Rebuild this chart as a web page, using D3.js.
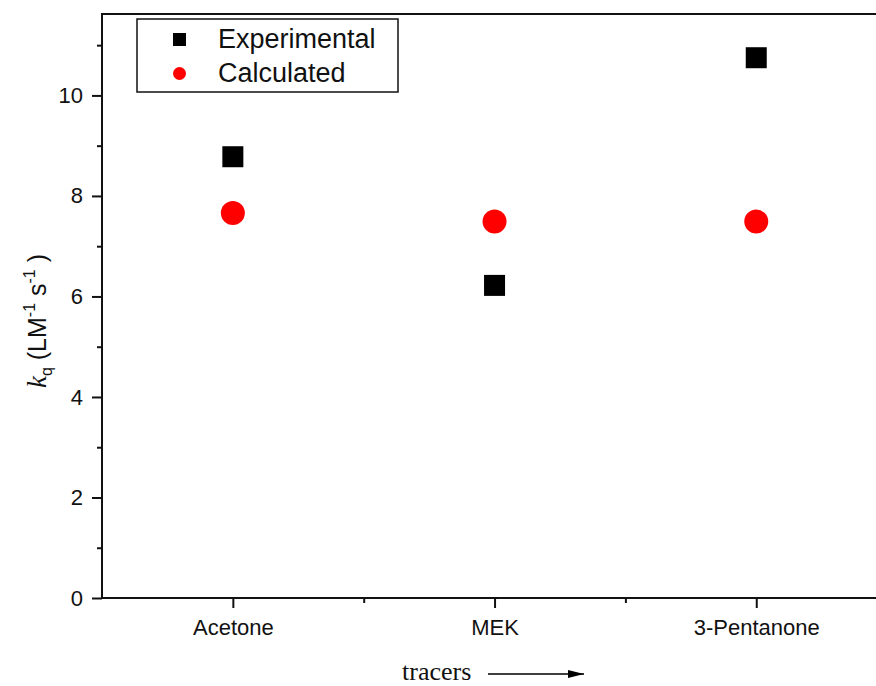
<!DOCTYPE html>
<html>
<head>
<meta charset="utf-8">
<script src="https://cdn.jsdelivr.net/npm/d3@7"></script>
<style>
  body { margin: 0; background: #fff; }
  svg { display: block; }
  .tick text { font-family: Arial, "Liberation Sans", sans-serif; }
</style>
</head>
<body>
<div id="chart"></div>
<script>
// tracer categories and kq values (L M^-1 s^-1)
const tracers = ["Acetone", "MEK", "3-Pentanone"];
const experimental = [8.78, 6.22, 10.75];
const calculated = [7.66, 7.49, 7.49];
const yTicks = [0, 2, 4, 6, 8, 10];

const width = 876, height = 686;
const margin = { left: 102, top: 14, bottom: 88 };

const svg = d3.select("#chart")
    .append("svg")
    .attr("width", width)
    .attr("height", height);

// x spans half a category either side, so the right frame falls outside the picture
const x = d3.scaleLinear()
    .domain([0.5, 3.5])
    .range([margin.left, margin.left + 261.7 * 3]);

const y = d3.scaleLinear()
    .domain([0, 11.62])
    .range([height - margin.bottom, margin.top]);

const x0 = x(0.5), x1 = x(3.5), y0 = y(0), y1 = y(11.62);

// frame
svg.append("rect")
    .attr("x", x0).attr("y", y1)
    .attr("width", x1 - x0).attr("height", y0 - y1)
    .attr("fill", "none")
    .attr("stroke", "#111")
    .attr("stroke-width", 2);

// y axis, major + minor ticks
const gy = svg.append("g")
    .attr("transform", `translate(${x0},0)`)
    .call(d3.axisLeft(y)
        .tickValues(yTicks)
        .tickSize(10)
        .tickPadding(9)
        .tickFormat(d3.format("d")));
gy.select(".domain").remove();
gy.selectAll(".tick line").attr("stroke", "#111").attr("stroke-width", 2);
gy.selectAll(".tick text").style("font-size", "22px").attr("fill", "#111");

svg.append("g")
    .attr("transform", `translate(${x0},0)`)
    .call(d3.axisLeft(y).tickValues([1, 3, 5, 7, 9, 11]).tickSize(5).tickFormat(""))
    .call(g => g.select(".domain").remove())
    .selectAll(".tick line").attr("stroke", "#111").attr("stroke-width", 2);

// x axis, ticks point down
const gx = svg.append("g")
    .attr("transform", `translate(0,${y0})`)
    .call(d3.axisBottom(x)
        .tickValues([1, 2, 3])
        .tickSize(10)
        .tickPadding(11)
        .tickFormat((d, i) => tracers[i]));
gx.select(".domain").remove();
gx.selectAll(".tick line").attr("stroke", "#111").attr("stroke-width", 2);
gx.selectAll(".tick text").style("font-size", "22px").attr("fill", "#111");

svg.append("g")
    .attr("transform", `translate(0,${y0})`)
    .call(d3.axisBottom(x).tickValues([1.5, 2.5]).tickSize(5).tickFormat(""))
    .call(g => g.select(".domain").remove())
    .selectAll(".tick line").attr("stroke", "#111").attr("stroke-width", 2);

// points
const sq = 21;
svg.append("g")
    .selectAll("rect")
    .data(experimental)
    .enter()
    .append("rect")
    .attr("x", (d, i) => x(i + 1) - sq / 2)
    .attr("y", d => y(d) - sq / 2)
    .attr("width", sq)
    .attr("height", sq)
    .attr("fill", "#000");

svg.append("g")
    .selectAll("circle")
    .data(calculated)
    .enter()
    .append("circle")
    .attr("cx", (d, i) => x(i + 1))
    .attr("cy", d => y(d))
    .attr("r", 12)
    .attr("fill", "#ff0000");

// legend
const legend = svg.append("g");
legend.append("rect")
    .attr("x", 137).attr("y", 19)
    .attr("width", 261).attr("height", 73)
    .attr("fill", "#fff")
    .attr("stroke", "#111")
    .attr("stroke-width", 1.5);

legend.append("rect")
    .attr("x", 173).attr("y", 33)
    .attr("width", 13).attr("height", 13)
    .attr("fill", "#000");
legend.append("circle")
    .attr("cx", 179.5).attr("cy", 73.5)
    .attr("r", 6.5)
    .attr("fill", "#ff0000");

legend.selectAll("text")
    .data(["Experimental", "Calculated"])
    .enter()
    .append("text")
    .attr("x", 218)
    .attr("y", (d, i) => 48 + i * 34)
    .style("font-family", "Arial, 'Liberation Sans', sans-serif")
    .style("font-size", "27px")
    .attr("fill", "#111")
    .text(d => d);

// y axis title
const yt = svg.append("text")
    .attr("transform", "translate(46,321) rotate(-90)")
    .attr("text-anchor", "middle")
    .style("font-family", "Arial, 'Liberation Sans', sans-serif")
    .style("font-size", "25px")
    .attr("fill", "#111");
yt.append("tspan").style("font-family", "'Liberation Serif', serif").style("font-style", "italic").style("font-size", "27px").text("k");
yt.append("tspan").attr("dy", 6).style("font-size", "16px").text("q");
yt.append("tspan").attr("dy", -6).text(" (LM");
yt.append("tspan").attr("dy", -11).style("font-size", "16px").text("-1");
yt.append("tspan").attr("dy", 11).text(" s");
yt.append("tspan").attr("dy", -11).style("font-size", "16px").text("-1");
yt.append("tspan").attr("dy", 11).text(" )");

// x axis title with arrow
svg.append("defs").append("marker")
    .attr("id", "arrow")
    .attr("viewBox", "0 0 16 8")
    .attr("refX", 16).attr("refY", 4)
    .attr("markerWidth", 16).attr("markerHeight", 8)
    .attr("markerUnits", "userSpaceOnUse")
    .attr("orient", "auto")
    .append("path")
    .attr("d", "M0,0L16,4L0,8Z")
    .attr("fill", "#000");

svg.append("text")
    .attr("x", 402)
    .attr("y", 680)
    .style("font-family", "'Liberation Serif', 'Times New Roman', serif")
    .style("font-size", "26px")
    .attr("fill", "#111")
    .text("tracers");

svg.append("line")
    .attr("x1", 488).attr("x2", 584)
    .attr("y1", 674).attr("y2", 674)
    .attr("stroke", "#000")
    .attr("stroke-width", 1.5)
    .attr("marker-end", "url(#arrow)");
</script>
</body>
</html>
